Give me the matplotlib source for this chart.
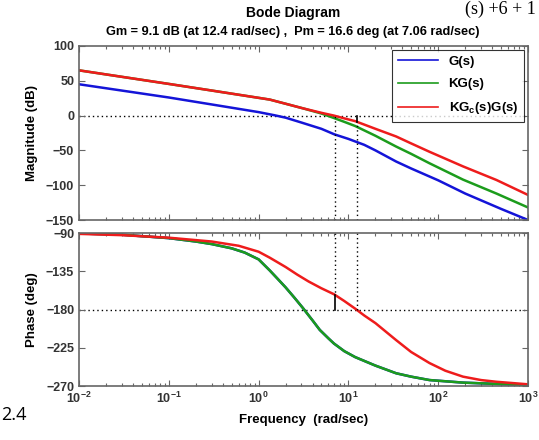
import matplotlib as mpl
import matplotlib.pyplot as plt
from matplotlib.ticker import LogLocator, NullFormatter

mpl.use('Agg')

plt.rcParams['font.family'] = ['Liberation Sans', 'DejaVu Sans']
plt.rcParams['font.weight'] = 'bold'

# values
freq_mag_g = [0.01, 0.1, 0.3, 1, 1.5, 2, 3, 5, 7, 10, 15, 20, 34, 50, 100, 200, 500, 1000]
mag_g = [45, 26, 16, 5, 0.5, -3, -10, -19, -27, -33.5, -42, -50, -66, -76, -93, -112, -134, -150]

freq_mag_c = [0.01, 0.1, 0.3, 1, 1.33, 2, 3.1, 5, 6.9, 9, 11.9, 20, 34, 50, 80, 189, 445, 1000]
mag_kg = [65, 45.5, 36, 25.5, 23, 17, 10.5, 3, -3.5, -9, -15, -29, -44.5, -55, -68.5, -92, -112, -132]
mag_kgcg = [65, 45.5, 36, 25.5, 23, 17, 10.5, 4, 0, -4, -8, -19, -30, -40, -52, -73, -92.5, -114]

freq_ph_kg = [0.01, 0.03, 0.1, 0.2, 0.3, 0.5, 0.7, 1, 1.33, 1.6, 2, 2.5, 3.1, 4, 4.8, 6,
              6.9, 9, 11.9, 20, 34, 50, 80, 189, 1000]
ph_kg = [-90.5, -92, -96, -100, -103, -108, -113, -121, -134, -143, -154, -166, -178, -193,
         -204, -214, -220, -229, -236, -246, -255, -259, -263, -266, -269]
ph_g = ph_kg  # G(s) phase lies under KG(s)

freq_ph_c = [0.01, 0.03, 0.1, 0.3, 0.6, 1, 1.33, 2, 2.7, 3.6, 5, 6.9, 9, 11.9, 15, 20, 34,
             50, 80, 120, 189, 300, 445, 1000]
ph_kgcg = [-91, -92.5, -95.5, -100, -105, -112, -119, -130, -139, -147, -155, -162, -170,
           -179, -187, -196, -216, -230, -243, -252, -259, -263, -265, -268]

gm_db, wcg = 9.1, 12.4
pm_deg, wcp = 16.6, 7.06

labels = ['G(s)', 'KG(s)', 'KG$_\\mathregular{c}$(s)G(s)']
c_blue, c_green, c_red = '#1414d8', '#1c9c1c', '#ee1c1c'
grey = '#666666'
dot = (0, (1, 2.2))

fig = plt.figure(figsize=(5.39, 4.40), dpi=100)
ax1 = fig.add_axes([0.1466, 0.5, 0.833, 0.3955])
ax2 = fig.add_axes([0.1466, 0.1227, 0.833, 0.3477])

ax1.plot(freq_mag_g, mag_g, color=c_blue, lw=1.8, label=labels[0])
ax1.plot(freq_mag_c, mag_kg, color=c_green, lw=1.8, label=labels[1])
ax1.plot(freq_mag_c, mag_kgcg, color=c_red, lw=1.8, label=labels[2])

ax1.axhline(0, color='k', ls=dot, lw=1, zorder=1)
ax1.plot([wcp, wcp], [-150, 0], color='k', ls=dot, lw=1)
ax1.plot([wcg, wcg], [-150, -gm_db], color='k', ls=dot, lw=1)
ax1.plot([wcg, wcg], [0, -gm_db], color='k', lw=1.2)

ax2.plot(freq_ph_kg, ph_g, color=c_blue, lw=1.8)
ax2.plot(freq_ph_kg, ph_kg, color=c_green, lw=1.8)
ax2.plot(freq_ph_c, ph_kgcg, color=c_red, lw=1.8)

ax2.axhline(-180, color='k', ls=dot, lw=1, zorder=1)
ax2.plot([wcp, wcp], [-90, -180 + pm_deg], color='k', ls=dot, lw=1)
ax2.plot([wcp, wcp], [-180 + pm_deg, -180], color='k', lw=1.2)
ax2.plot([wcg, wcg], [-90, -180], color='k', ls=dot, lw=1)

for ax in (ax1, ax2):
    ax.set_xscale('log')
    ax.set_xlim(1e-2, 1e3)
    ax.xaxis.set_major_locator(LogLocator(base=10, numticks=10))
    ax.xaxis.set_minor_locator(LogLocator(base=10, subs=range(2, 10), numticks=10))
    ax.xaxis.set_minor_formatter(NullFormatter())
    ax.tick_params(which='both', direction='in', top=True, right=True,
                   colors=grey, labelcolor='#333333', labelsize=9)
    ax.tick_params(which='major', length=4, width=0.8)
    ax.tick_params(which='minor', length=2.5, width=0.8)
    for s in ax.spines.values():
        s.set_color(grey)
        s.set_linewidth(1.2)

ax1.set_ylim(-150, 100)
ax1.set_yticks([100, 50, 0, -50, -100, -150])
ax1.tick_params(labelbottom=False)
ax2.set_ylim(-270, -90)
ax2.set_yticks([-90, -135, -180, -225, -270])

ax1.set_ylabel('Magnitude (dB)', fontsize=9.5, fontweight='bold', labelpad=6)
ax2.set_ylabel('Phase (deg)', fontsize=9.5, fontweight='bold', labelpad=6)
ax2.set_xlabel('Frequency  (rad/sec)', fontsize=9.5, fontweight='bold', labelpad=6)

leg = ax1.legend(loc='upper right', fontsize=9.5, frameon=True, fancybox=False,
                 edgecolor='k', handlelength=3.0, borderaxespad=0.3,
                 labelspacing=0.75, borderpad=0.45)
leg.get_frame().set_linewidth(0.8)
for line in leg.get_lines():
    line.set_linewidth(1.2)

fig.text(0.544, 0.970, 'Bode Diagram', ha='center', va='center',
         fontsize=10, fontweight='bold')
fig.text(0.544, 0.927,
         'Gm = 9.1 dB (at 12.4 rad/sec) ,  Pm = 16.6 deg (at 7.06 rad/sec)',
         ha='center', va='center', fontsize=9.2, fontweight='bold')

# stray text from the page the chart was clipped from
fig.text(0.995, 0.999, '(s) +6 + 1', ha='right', va='top',
         fontsize=13, family='Liberation Serif', fontweight='normal')
fig.text(0.002, 0.057, '2.4', ha='left', va='center',
         fontsize=13, family='Open Sans', fontweight='normal')

fig.savefig('out.png', dpi=100)
